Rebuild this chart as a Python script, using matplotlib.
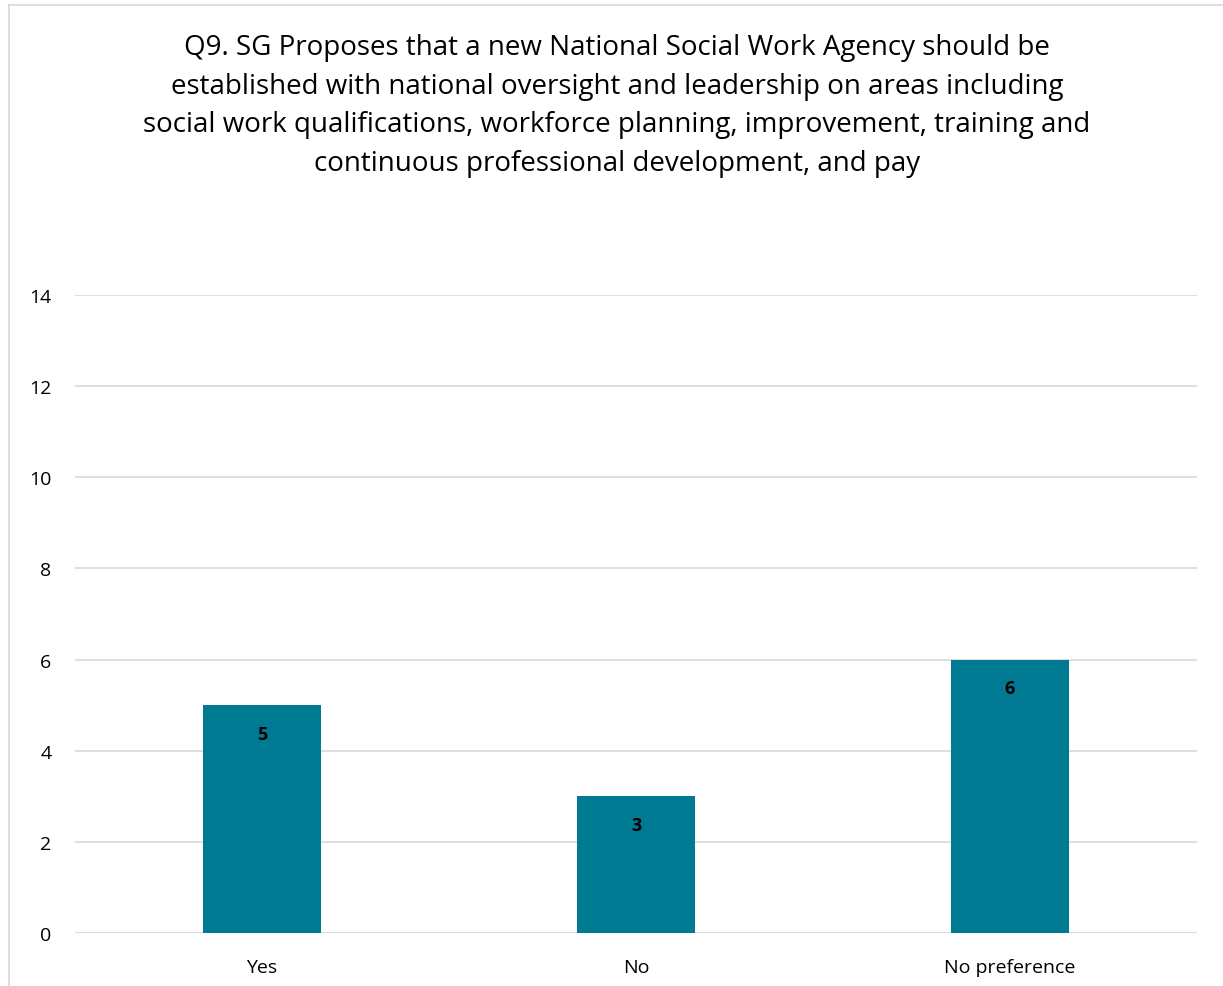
import matplotlib
matplotlib.use('Agg')
from matplotlib import pyplot as plt
from matplotlib.lines import Line2D

categories = ['Yes', 'No', 'No preference']
counts = [5, 3, 6]
yticks = [0, 2, 4, 6, 8, 10, 12, 14]
title = ('Q9. SG Proposes that a new National Social Work Agency should be\n'
         'established with national oversight and leadership on areas including\n'
         'social work qualifications, workforce planning, improvement, training and\n'
         'continuous professional development, and pay')

plt.rcParams['font.family'] = ['Open Sans', 'DejaVu Sans']

W, H = 1223, 987
fig = plt.figure(figsize=(W / 100, H / 100), dpi=100)
ax = fig.add_axes([75 / W, 1 - 934 / H, (1197 - 75) / W, (934 - 296) / H])

x = range(len(categories))
bars = ax.bar(x, counts, width=0.316, color='#007A93', zorder=3)
for b, v in zip(bars, counts):
    ax.text(b.get_x() + b.get_width() / 2, v - 0.63, str(v), ha='center', va='center',
            fontsize=13, fontweight='bold', color='black', zorder=4)

ax.set_xlim(-0.5, 2.5)
ax.set_ylim(0, 14)
ax.set_yticks(yticks)
ax.set_xticks(list(x))
ax.set_xticklabels(categories)
ax.tick_params(axis='both', length=0, labelsize=14, colors='black')
ax.tick_params(axis='y', pad=17)
ax.tick_params(axis='x', pad=18)
ax.yaxis.grid(True, color='#D9D9D9', linewidth=1.2, zorder=0)
for s in ax.spines.values():
    s.set_visible(False)
ax.axhline(0, color='#D9D9D9', linewidth=1.2, zorder=2)

fig.text(617 / W, 1 - 106 / H, title, ha='center', va='center', fontsize=20,
         linespacing=1.5, color='black')

# chart frame (cropped at right and bottom)
fig.add_artist(Line2D([9 / W, 9 / W], [0, 1 - 6 / H], transform=fig.transFigure,
                      color='#D9D9D9', linewidth=1.2))
fig.add_artist(Line2D([9 / W, 1], [1 - 6 / H, 1 - 6 / H], transform=fig.transFigure,
                      color='#D9D9D9', linewidth=1.2))

plt.savefig('out.png', dpi=100)
